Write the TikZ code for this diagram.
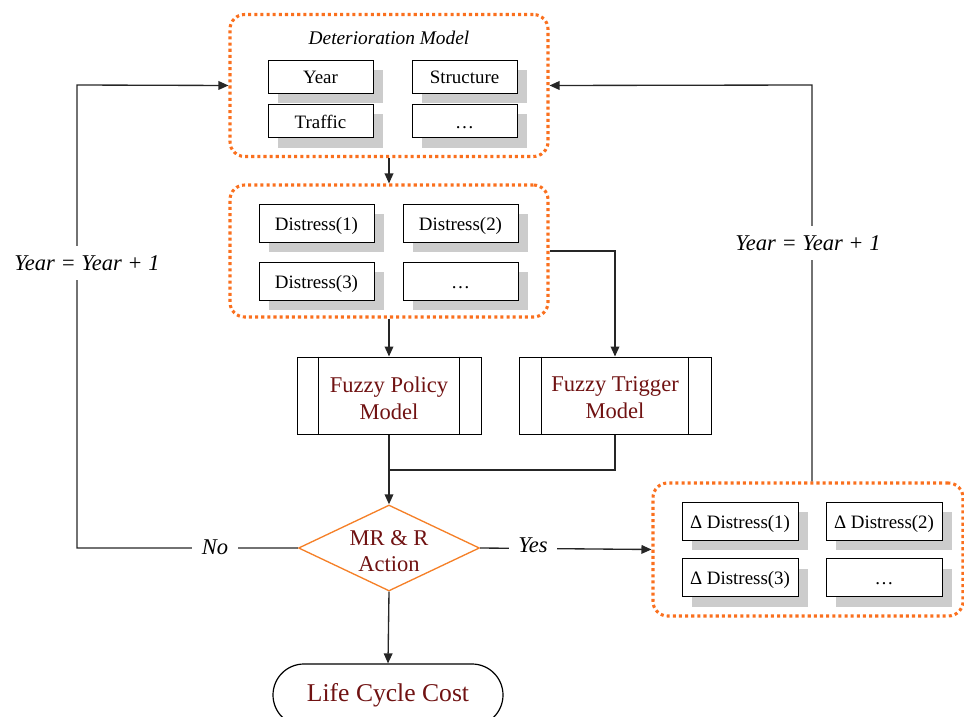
\documentclass[tikz,border=0pt]{standalone}
\usepackage{fontspec}
\setmainfont{Liberation Serif}
\usetikzlibrary{arrows.meta,shapes.geometric,shapes.misc,shadows}

\definecolor{dotorange}{RGB}{250,112,30}
\definecolor{diaorange}{RGB}{245,128,40}
\definecolor{darkred}{RGB}{112,18,18}
\definecolor{shadowgray}{RGB}{204,204,204}

\tikzset{
  group/.style={draw=dotorange, line width=2.3pt, dash pattern=on 2.3pt off 2.3pt,
    rounded corners=11pt, inner sep=0pt},
  item/.style={draw=black, line width=0.75pt, fill=white, inner sep=0pt,
    font=\fontsize{14.2}{16}\selectfont, text height=1.05em, text depth=0em,
    copy shadow={shadow xshift=7.5pt, shadow yshift=-7.5pt, fill=shadowgray, draw=none}},
  smallitem/.style={item, minimum width=105*0.75pt, minimum height=33*0.75pt},
  distitem/.style={item, minimum width=115*0.75pt, minimum height=38*0.75pt},
  process/.style={draw=black, line width=0.75pt, inner sep=0pt, minimum height=77*0.75pt},
  proctext/.style={align=center, text=darkred, font=\fontsize{16.9}{20.3}\selectfont},
  conn/.style={line width=1pt, draw=black!85},
  arr/.style={conn, -{Triangle[length=7.5pt,width=6.5pt]}},
  cond/.style={font=\fontsize{16.9}{20}\selectfont\itshape, fill=white}
}

\begin{document}
\begin{tikzpicture}[x=0.75pt, y=-0.75pt]
\useasboundingbox (0,0) rectangle (964,717);
\clip (0,0) rectangle (964,717);

% deterioration model group
\node[group, minimum width=318*0.75pt, minimum height=142*0.75pt] (det) at (389,85.5) {};
\node[font=\fontsize{14.5}{16}\selectfont\itshape] (dettitle) at (389,38) {Deterioration Model};
\node[smallitem] (year)   at (320.5,77)  {Year};
\node[smallitem] (struct) at (464.5,77)  {Structure};
\node[smallitem] (traf)   at (320.5,121) {Traffic};
\node[smallitem] (more1)  at (464.5,121) {…};

% distress group
\node[group, minimum width=318*0.75pt, minimum height=132*0.75pt] (dist) at (389,251) {};
\node[distitem] (d1)    at (316.5,223) {Distress(1)};
\node[distitem] (d2)    at (460.5,223) {Distress(2)};
\node[distitem] (d3)    at (316.5,281) {Distress(3)};
\node[distitem] (more2) at (460.5,281) {…};

% fuzzy models: boxes with inner bars, text set separately
\node[process, minimum width=184*0.75pt] (policy)  at (389,395.5) {};
\node[process, minimum width=192*0.75pt] (trigger) at (615,395.5) {};
\node[proctext] (policytext)  at (389,398) {Fuzzy Policy\\Model};
\node[proctext] (triggertext) at (615,398) {Fuzzy Trigger\\Model};
\draw[line width=0.75pt] ([xshift=22*0.75pt]policy.north west) -- ([xshift=22*0.75pt]policy.south west);
\draw[line width=0.75pt] ([xshift=-22*0.75pt]policy.north east) -- ([xshift=-22*0.75pt]policy.south east);
\draw[line width=0.75pt] ([xshift=23*0.75pt]trigger.north west) -- ([xshift=23*0.75pt]trigger.south west);
\draw[line width=0.75pt] ([xshift=-23*0.75pt]trigger.north east) -- ([xshift=-23*0.75pt]trigger.south east);

% decision
\node[diamond, draw=diaorange, line width=1pt, minimum width=181*0.75pt,
      minimum height=86*0.75pt, inner sep=0pt] (act) at (389,548) {};
\node[align=center, text=darkred, font=\fontsize{16.9}{19.5}\selectfont] (acttext) at (389,551) {MR \& R\\Action};

% delta distress group
\node[group, minimum width=310*0.75pt, minimum height=133*0.75pt] (delta) at (808,549.5) {};
\node[distitem, minimum width=116*0.75pt] (e1)    at (740,521) {Δ Distress(1)};
\node[distitem, minimum width=116*0.75pt] (e2)    at (884,521) {Δ Distress(2)};
\node[distitem, minimum width=116*0.75pt] (e3)    at (740,577.5) {Δ Distress(3)};
\node[distitem, minimum width=116*0.75pt] (more3) at (884,577.5) {…};

% terminal
\node[rounded rectangle, draw=black, line width=0.9pt, minimum width=230*0.75pt,
      minimum height=62*0.75pt, inner sep=0pt, text=darkred,
      font=\fontsize{19.2}{22}\selectfont] (lcc) at (388,695) {Life Cycle Cost};

% connectors
\draw[arr] (det.south) -- (dist.north);
\draw[arr] (dist.south) -- (policy.north);
\draw[arr] (dist.east) -| (trigger.north);
\draw[conn] (trigger.south) |- (389,470) coordinate (join);
\draw[arr] (policy.south) -- (act.north);
\draw[arr] (act.south) -- (lcc.north);

% "no" branch back to the deterioration model
\coordinate (leftbend) at (77,548);
\coordinate (lefttop) at (77,85);
\draw[arr] (act.west) -- (leftbend) -- (lefttop) -- (det.west);
\node[cond, inner xsep=10pt*0.75, inner ysep=1pt] (no) at (215,547) {No};
\node[cond, inner xsep=1pt, inner ysep=9pt*0.75] (leftinc) at (87,263) {Year = Year + 1};

% "yes" branch
\draw[arr] (act.east) -- (delta.west);
\node[cond, inner xsep=9pt*0.75, inner ysep=1pt] (yes) at (533,545) {Yes};

% loop from the delta group back to the deterioration model
\coordinate (righttop) at (812,85);
\draw[arr] (delta.north -| righttop) -- (righttop) -- (det.east);
\node[cond, inner xsep=1pt, inner ysep=9pt*0.75] (rightinc) at (808,243) {Year = Year + 1};
\end{tikzpicture}
\end{document}
